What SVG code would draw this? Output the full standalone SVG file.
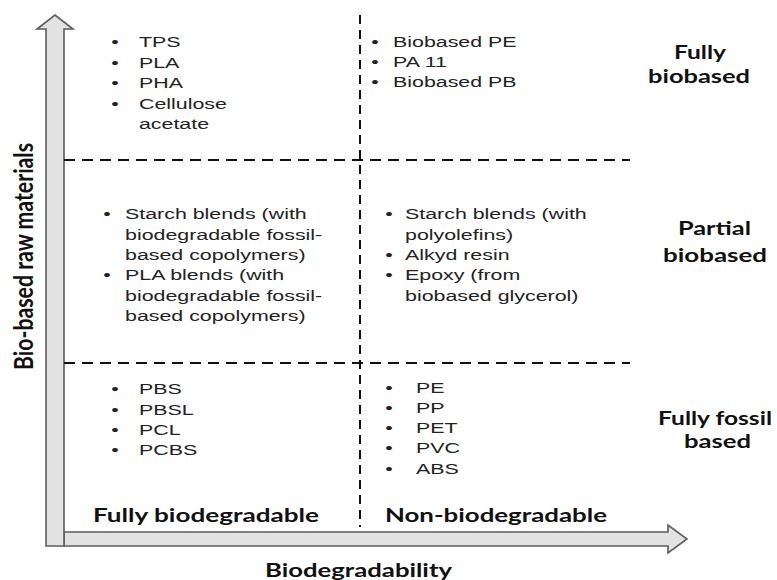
<svg xmlns="http://www.w3.org/2000/svg" width="777" height="580" viewBox="0 0 777 580">
<style>
.t{font-family:"Liberation Sans",Arial,sans-serif;font-size:15.5px;fill:#222}
.b{text-anchor:middle}
.h{font-family:Lato,"Open Sans",sans-serif;font-weight:700;font-size:19px;fill:#111}
.dh{stroke:#111;stroke-width:2;fill:none;stroke-dasharray:11 7}
.dv{stroke:#111;stroke-width:2;fill:none;stroke-dasharray:9 6}
.ax{fill:#e2e2e2;stroke:#5c5c5c;stroke-width:1.6;stroke-linejoin:miter}
</style>
<rect width="777" height="580" fill="#fff"/>
<g id="connectors">
  <polygon class="ax" points="64,532 668,532 668,525 687,539 668,553 668,546 64,546"/>
  <polygon class="ax" points="46,546 46,29 37,29 55,15 73,29 64,29 64,546"/>
  <line class="dh" x1="64" y1="160" x2="630" y2="160"/>
  <line class="dh" x1="64" y1="363" x2="630" y2="363"/>
  <line class="dv" x1="360" y1="15" x2="360" y2="527"/>
</g>
<g id="q-top-left" transform="scale(1.38 1)">
  <text class="t b" x="83.3" y="47">•</text><text class="t" x="100.7" y="47">TPS</text>
  <text class="t b" x="83.3" y="68">•</text><text class="t" x="100.7" y="68">PLA</text>
  <text class="t b" x="83.3" y="88">•</text><text class="t" x="100.7" y="88">PHA</text>
  <text class="t b" x="83.3" y="109">•</text><text class="t" x="100.7" y="109">Cellulose</text>
  <text class="t" x="100.7" y="129">acetate</text>
</g>
<g id="q-top-right" transform="scale(1.38 1)">
  <text class="t b" x="271.7" y="47">•</text><text class="t" x="284.8" y="47">Biobased PE</text>
  <text class="t b" x="271.7" y="67">•</text><text class="t" x="284.8" y="67">PA 11</text>
  <text class="t b" x="271.7" y="87">•</text><text class="t" x="284.8" y="87">Biobased PB</text>
</g>
<g id="q-mid-left" transform="scale(1.38 1)">
  <text class="t b" x="77.5" y="219">•</text><text class="t" x="90.6" y="219">Starch blends (with</text>
  <text class="t" x="90.6" y="240">biodegradable fossil-</text>
  <text class="t" x="90.6" y="260">based copolymers)</text>
  <text class="t b" x="77.5" y="280">•</text><text class="t" x="90.6" y="280">PLA blends (with</text>
  <text class="t" x="90.6" y="301">biodegradable fossil-</text>
  <text class="t" x="90.6" y="321">based copolymers)</text>
</g>
<g id="q-mid-right" transform="scale(1.38 1)">
  <text class="t b" x="281.9" y="219">•</text><text class="t" x="293.5" y="219">Starch blends (with</text>
  <text class="t" x="293.5" y="240">polyolefins)</text>
  <text class="t b" x="281.9" y="260">•</text><text class="t" x="293.5" y="260">Alkyd resin</text>
  <text class="t b" x="281.9" y="280">•</text><text class="t" x="293.5" y="280">Epoxy  (from</text>
  <text class="t" x="293.5" y="301">biobased glycerol)</text>
</g>
<g id="q-bottom-left" transform="scale(1.38 1)">
  <text class="t b" x="83.3" y="394">•</text><text class="t" x="100.7" y="394">PBS</text>
  <text class="t b" x="83.3" y="415">•</text><text class="t" x="100.7" y="415">PBSL</text>
  <text class="t b" x="83.3" y="435">•</text><text class="t" x="100.7" y="435">PCL</text>
  <text class="t b" x="83.3" y="455">•</text><text class="t" x="100.7" y="455">PCBS</text>
</g>
<g id="q-bottom-right" transform="scale(1.38 1)">
  <text class="t b" x="281.9" y="393">•</text><text class="t" x="301.4" y="393">PE</text>
  <text class="t b" x="281.9" y="413">•</text><text class="t" x="301.4" y="413">PP</text>
  <text class="t b" x="281.9" y="433">•</text><text class="t" x="301.4" y="433">PET</text>
  <text class="t b" x="281.9" y="453">•</text><text class="t" x="301.4" y="453">PVC</text>
  <text class="t b" x="281.9" y="474">•</text><text class="t" x="301.4" y="474">ABS</text>
</g>
<g id="label-fully-biobased">
  <text class="h" x="674" y="59" textLength="52" lengthAdjust="spacingAndGlyphs">Fully</text>
  <text class="h" x="648" y="83" textLength="102" lengthAdjust="spacingAndGlyphs">biobased</text>
</g>
<g id="label-partial-biobased">
  <text class="h" x="678" y="235" textLength="73" lengthAdjust="spacingAndGlyphs">Partial</text>
  <text class="h" x="663" y="262" textLength="104" lengthAdjust="spacingAndGlyphs">biobased</text>
</g>
<g id="label-fully-fossil">
  <text class="h" x="658" y="425" textLength="114" lengthAdjust="spacingAndGlyphs">Fully fossil</text>
  <text class="h" x="684" y="448" textLength="67" lengthAdjust="spacingAndGlyphs">based</text>
</g>
<g id="label-fully-biodegradable">
  <text class="h" x="93" y="522" textLength="226" lengthAdjust="spacingAndGlyphs">Fully biodegradable</text>
</g>
<g id="label-non-biodegradable">
  <text class="h" x="385" y="522" textLength="222" lengthAdjust="spacingAndGlyphs">Non-biodegradable</text>
</g>
<g id="axis-x-label">
  <text class="h" x="265" y="577" textLength="187" lengthAdjust="spacingAndGlyphs">Biodegradability</text>
</g>
<g id="axis-y-label">
  <text class="h" transform="translate(33,370) rotate(-90)" x="0" y="0" style="font-size:26px" textLength="227" lengthAdjust="spacingAndGlyphs">Bio-based raw materials</text>
</g>
</svg>
